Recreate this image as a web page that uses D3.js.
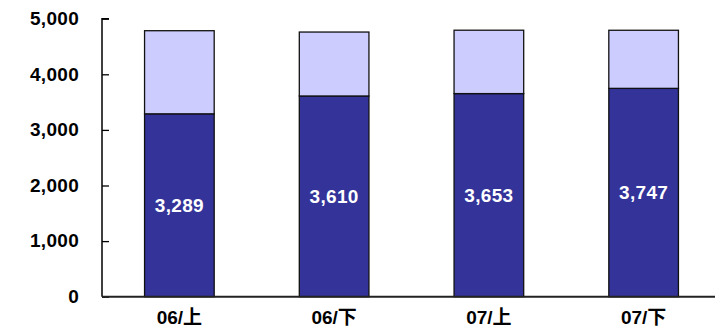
<!DOCTYPE html>
<html>
<head>
<meta charset="utf-8">
<script src="https://cdn.jsdelivr.net/npm/d3@7"></script>
<style>
  html, body { margin: 0; padding: 0; background: #fff; }
  svg { display: block; }
  text { font-family: "Liberation Sans", Arial, "Noto Sans CJK JP", sans-serif; font-weight: bold; }
</style>
</head>
<body>
<svg id="chart" width="715" height="333"></svg>
<script>
// Half-year periods
const categories = ["06/上", "06/下", "07/上", "07/下"];
// Lower (labelled) segment
const lowerValues = [3289, 3610, 3653, 3747];
// Upper segment stacked on top
const upperValues = [1495, 1150, 1140, 1045];
const yTicks = [0, 1000, 2000, 3000, 4000, 5000];

const svg = d3.select("#chart");
const plotLeft = 102, plotRight = 721, plotTop = 18.7, plotBottom = 296.7;
const fontSize = 19;

const x = d3.scaleBand().domain(categories).range([plotLeft, plotRight])
  .paddingInner(0.55).paddingOuter(0.275);
const y = d3.scaleLinear().domain([0, 5000]).range([plotBottom, plotTop]);

const rows = categories.map((c, i) => ({ cat: c, lower: lowerValues[i], upper: upperValues[i] }));
const stacked = d3.stack().keys(["lower", "upper"])(rows);
const fills = { lower: "#333399", upper: "#CCCCFF" };

// Stacked bars
svg.append("g").selectAll("g").data(stacked).join("g")
  .attr("fill", d => fills[d.key])
  .selectAll("rect").data(d => d).join("rect")
  .attr("x", d => x(d.data.cat))
  .attr("width", x.bandwidth())
  .attr("y", d => y(d[1]))
  .attr("height", d => y(d[0]) - y(d[1]))
  .attr("stroke", "#111")
  .attr("stroke-width", 1.3);

// Value labels in the lower segment
svg.append("g").selectAll("text").data(rows).join("text")
  .attr("x", d => x(d.cat) + x.bandwidth() / 2)
  .attr("y", d => (y(0) + y(d.lower)) / 2)
  .attr("dy", "0.35em")
  .attr("text-anchor", "middle")
  .attr("fill", "#fff")
  .attr("font-size", fontSize)
  .attr("letter-spacing", 0.3)
  .text(d => d3.format(",")(d.lower));

// Y axis with inward ticks
const yAxis = svg.append("g").attr("transform", `translate(${plotLeft},0)`)
  .call(d3.axisRight(y).tickValues(yTicks).tickSize(7).tickFormat(d3.format(",")));
yAxis.select(".domain").attr("d", `M7,${plotTop}H0V${plotBottom}`).attr("stroke", "#000").attr("stroke-width", 1.5);
yAxis.selectAll(".tick line").attr("stroke", "#000").attr("stroke-width", 1.3);
yAxis.selectAll(".tick text")
  .attr("x", -23).attr("dy", "0.3em").attr("text-anchor", "end")
  .attr("font-size", fontSize).attr("letter-spacing", 0.3).attr("fill", "#000")
  .attr("font-family", null);

// X axis baseline and category labels
const xAxis = svg.append("g").attr("transform", `translate(0,${plotBottom})`)
  .call(d3.axisBottom(x).tickSize(0).tickPadding(14));
xAxis.select(".domain").attr("d", `M${plotLeft},0H715`).attr("stroke", "#222").attr("stroke-width", 2);
xAxis.selectAll(".tick text").attr("font-size", fontSize).attr("fill", "#000").attr("font-family", null);
</script>
</body>
</html>
